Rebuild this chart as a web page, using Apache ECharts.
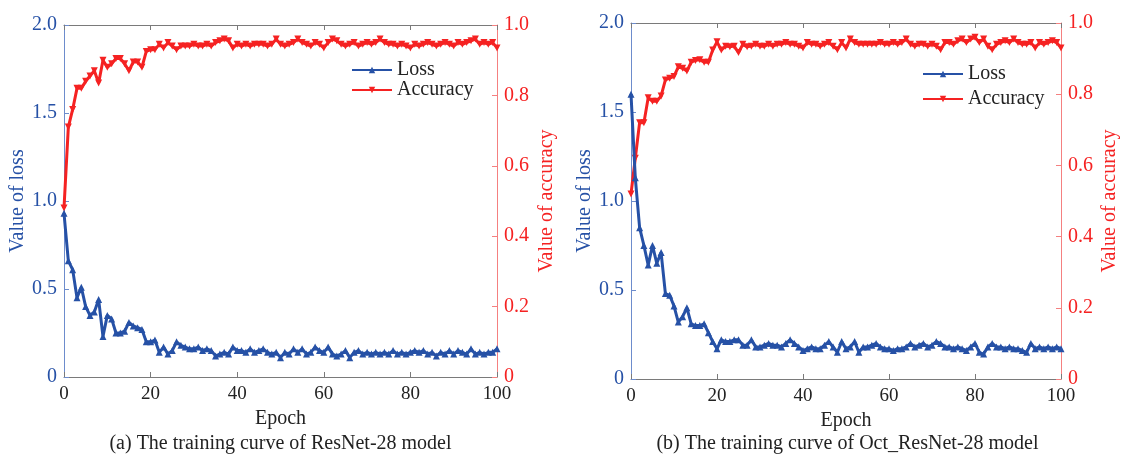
<!DOCTYPE html>
<html>
<head>
<meta charset="utf-8">
<script src="https://cdn.jsdelivr.net/npm/echarts@6/dist/echarts.min.js"></script>
<style>
  html, body { margin: 0; padding: 0; background: #fff; }
  #main { width: 1121px; height: 459px; }
</style>
</head>
<body>
<div id="main"></div>
<script>
// epochs 0..100
var epochs = [];
for (var i = 0; i <= 100; i++) epochs.push(i);

// (a) ResNet-28
var lossA = [0.93, 0.66, 0.61, 0.45, 0.51, 0.40, 0.35, 0.37, 0.44, 0.23,
  0.35, 0.33, 0.25, 0.25, 0.26, 0.31, 0.29, 0.28, 0.27, 0.20,
  0.20, 0.21, 0.14, 0.17, 0.13, 0.15, 0.20, 0.18, 0.17, 0.16,
  0.16, 0.17, 0.15, 0.16, 0.15, 0.12, 0.13, 0.14, 0.13, 0.17,
  0.15, 0.15, 0.14, 0.16, 0.14, 0.15, 0.16, 0.14, 0.13, 0.14,
  0.11, 0.14, 0.13, 0.16, 0.14, 0.16, 0.13, 0.14, 0.17, 0.15,
  0.14, 0.17, 0.13, 0.12, 0.13, 0.15, 0.11, 0.14, 0.15, 0.13,
  0.14, 0.13, 0.14, 0.13, 0.14, 0.13, 0.15, 0.13, 0.14, 0.13,
  0.14, 0.15, 0.14, 0.15, 0.13, 0.14, 0.12, 0.14, 0.13, 0.15,
  0.13, 0.15, 0.14, 0.13, 0.16, 0.13, 0.14, 0.13, 0.14, 0.14,
  0.16];
var accA = [0.48, 0.71, 0.76, 0.82, 0.82, 0.84, 0.855, 0.87, 0.835, 0.90,
  0.88, 0.89, 0.905, 0.905, 0.89, 0.87, 0.895, 0.895, 0.88, 0.925,
  0.93, 0.93, 0.945, 0.935, 0.95, 0.94, 0.93, 0.94, 0.94, 0.94,
  0.945, 0.94, 0.94, 0.945, 0.94, 0.95, 0.955, 0.96, 0.955, 0.935,
  0.945, 0.94, 0.945, 0.94, 0.945, 0.945, 0.945, 0.94, 0.945, 0.96,
  0.945, 0.94, 0.945, 0.95, 0.96, 0.95, 0.945, 0.94, 0.95, 0.945,
  0.935, 0.95, 0.96, 0.955, 0.945, 0.94, 0.945, 0.95, 0.94, 0.945,
  0.95, 0.945, 0.95, 0.96, 0.95, 0.945, 0.945, 0.94, 0.945, 0.94,
  0.935, 0.945, 0.94, 0.945, 0.95, 0.945, 0.94, 0.945, 0.95, 0.945,
  0.94, 0.95, 0.945, 0.95, 0.955, 0.96, 0.945, 0.95, 0.945, 0.95,
  0.935];

// (b) Oct_ResNet-28
var lossB = [1.60, 1.13, 0.85, 0.75, 0.64, 0.75, 0.65, 0.71, 0.48, 0.47,
  0.41, 0.32, 0.35, 0.40, 0.31, 0.30, 0.30, 0.31, 0.26, 0.21,
  0.17, 0.22, 0.21, 0.21, 0.22, 0.22, 0.19, 0.19, 0.22, 0.18,
  0.18, 0.19, 0.20, 0.19, 0.19, 0.18, 0.20, 0.22, 0.20, 0.18,
  0.16, 0.17, 0.18, 0.17, 0.17, 0.19, 0.21, 0.18, 0.15, 0.21,
  0.17, 0.18, 0.21, 0.15, 0.18, 0.18, 0.19, 0.20, 0.18, 0.17,
  0.17, 0.16, 0.17, 0.17, 0.18, 0.20, 0.18, 0.19, 0.20, 0.18,
  0.19, 0.21, 0.20, 0.18, 0.18, 0.17, 0.18, 0.17, 0.16, 0.18,
  0.20, 0.15, 0.14, 0.18, 0.20, 0.18, 0.18, 0.17, 0.18, 0.17,
  0.17, 0.16, 0.15, 0.20, 0.17, 0.18, 0.17, 0.18, 0.17, 0.18,
  0.17];
var accB = [0.52, 0.62, 0.72, 0.72, 0.79, 0.78, 0.78, 0.795, 0.84, 0.845,
  0.85, 0.877, 0.873, 0.865, 0.89, 0.895, 0.897, 0.89, 0.89, 0.924,
  0.947, 0.924, 0.935, 0.933, 0.935, 0.917, 0.94, 0.933, 0.935, 0.94,
  0.935, 0.935, 0.94, 0.935, 0.94, 0.94, 0.945, 0.94, 0.94, 0.935,
  0.93, 0.945, 0.94, 0.94, 0.935, 0.94, 0.945, 0.935, 0.925, 0.945,
  0.93, 0.955, 0.945, 0.94, 0.94, 0.94, 0.94, 0.94, 0.945, 0.94,
  0.94, 0.945, 0.94, 0.945, 0.955, 0.94, 0.935, 0.94, 0.94, 0.935,
  0.94, 0.935, 0.925, 0.945, 0.945, 0.94, 0.95, 0.955, 0.945, 0.955,
  0.96, 0.945, 0.955, 0.935, 0.925, 0.94, 0.945, 0.95, 0.945, 0.955,
  0.945, 0.94, 0.94, 0.945, 0.93, 0.945, 0.94, 0.945, 0.95, 0.945,
  0.93];

var captions = ['(a) The training curve of ResNet-28 model', '(b) The training curve of Oct_ResNet-28 model'];

var BLUE = '#2651a6';
var RED = '#f52222';
var FONT = '"Liberation Serif", "Times New Roman", serif';

function pairs(arr) {
    return arr.map(function (v, i) { return [epochs[i], v]; });
}
function fmt(v) { return v === 0 ? '0' : v.toFixed(1); }

var grids = [
    {left: 64, width: 433, top: 25, height: 352},
    {left: 631, width: 433, top: 23, height: 356}
];

var xAxes = [], yAxes = [], series = [], legends = [], graphics = [];
var legendPos = [{left: 346, top: 55, gap: 0}, {left: 917, top: 59, gap: 5}];
var sets = [[lossA, accA], [lossB, accB]];
var lossNameGap = [36, 34];
var accNameGap = [40, 39];

grids.forEach(function (g, k) {
    xAxes.push({
        type: 'value', gridIndex: k, min: 0, max: 100, interval: 20,
        name: 'Epoch', nameLocation: 'middle', nameGap: 28,
        nameTextStyle: {color: '#222', fontSize: 20, fontFamily: FONT},
        axisLine: {onZero: false, lineStyle: {color: '#7a7a7a', width: 1}},
        axisTick: {inside: true, length: 5, lineStyle: {color: '#7a7a7a'}},
        axisLabel: {color: '#222', fontSize: 19, fontFamily: FONT, margin: 8},
        splitLine: {show: false}
    });
    xAxes.push({
        type: 'value', gridIndex: k, position: 'top', min: 0, max: 100, interval: 20,
        axisLine: {onZero: false, lineStyle: {color: '#7a7a7a', width: 1}},
        axisTick: {inside: true, length: 5, lineStyle: {color: '#7a7a7a'}},
        axisLabel: {show: false},
        splitLine: {show: false}
    });
    yAxes.push({
        type: 'value', gridIndex: k, position: 'left', min: 0, max: 2, interval: 0.5,
        name: 'Value of loss', nameLocation: 'middle', nameGap: lossNameGap[k],
        nameTextStyle: {color: BLUE, fontSize: 20, fontFamily: FONT},
        axisLine: {show: true, onZero: false, lineStyle: {color: '#6d8ccc', width: 1}},
        axisTick: {show: true, inside: true, length: 5, lineStyle: {color: '#6d8ccc'}},
        axisLabel: {color: BLUE, fontSize: 20, fontFamily: FONT, margin: 7, formatter: fmt},
        splitLine: {show: false}
    });
    yAxes.push({
        type: 'value', gridIndex: k, position: 'right', min: 0, max: 1, interval: 0.2,
        name: 'Value of accuracy', nameLocation: 'middle', nameGap: accNameGap[k],
        nameTextStyle: {color: RED, fontSize: 20, fontFamily: FONT},
        axisLine: {show: true, onZero: false, lineStyle: {color: '#f58080', width: 1}},
        axisTick: {show: true, inside: true, length: 5, lineStyle: {color: '#f58080'}},
        axisLabel: {color: RED, fontSize: 20, fontFamily: FONT, margin: 7, formatter: fmt},
        splitLine: {show: false}
    });

    series.push({
        name: 'Loss', type: 'line', xAxisIndex: 2 * k, yAxisIndex: 2 * k,
        data: pairs(sets[k][0]),
        symbol: 'triangle', symbolSize: 7, showAllSymbol: true,
        lineStyle: {color: BLUE, width: 3},
        itemStyle: {color: BLUE},
        z: 3
    });
    series.push({
        name: 'Accuracy', type: 'line', xAxisIndex: 2 * k, yAxisIndex: 2 * k + 1,
        data: pairs(sets[k][1]),
        symbol: 'triangle', symbolRotate: 180, symbolSize: 7, showAllSymbol: true,
        lineStyle: {color: RED, width: 3},
        itemStyle: {color: RED},
        z: 2
    });

    legends.push({
        orient: 'vertical', left: legendPos[k].left, top: legendPos[k].top,
        itemWidth: 40, itemHeight: 8, itemGap: legendPos[k].gap,
        data: ['Loss', 'Accuracy'],
        textStyle: {color: '#222', fontSize: 20, fontFamily: FONT, lineHeight: 20},
        selectedMode: false
    });

    graphics.push({
        type: 'text', x: g.left + g.width / 2, y: 444,
        style: {text: captions[k], textAlign: 'center', textVerticalAlign: 'middle',
            fontSize: 20, fontFamily: FONT, fill: '#222'}
    });
});

var myChart = echarts.init(document.getElementById('main'));
var option = {
    animation: false,
    backgroundColor: '#fff',
    grid: grids,
    xAxis: xAxes,
    yAxis: yAxes,
    legend: legends,
    series: series,
    graphic: graphics
};
myChart.setOption(option);
</script>
</body>
</html>
